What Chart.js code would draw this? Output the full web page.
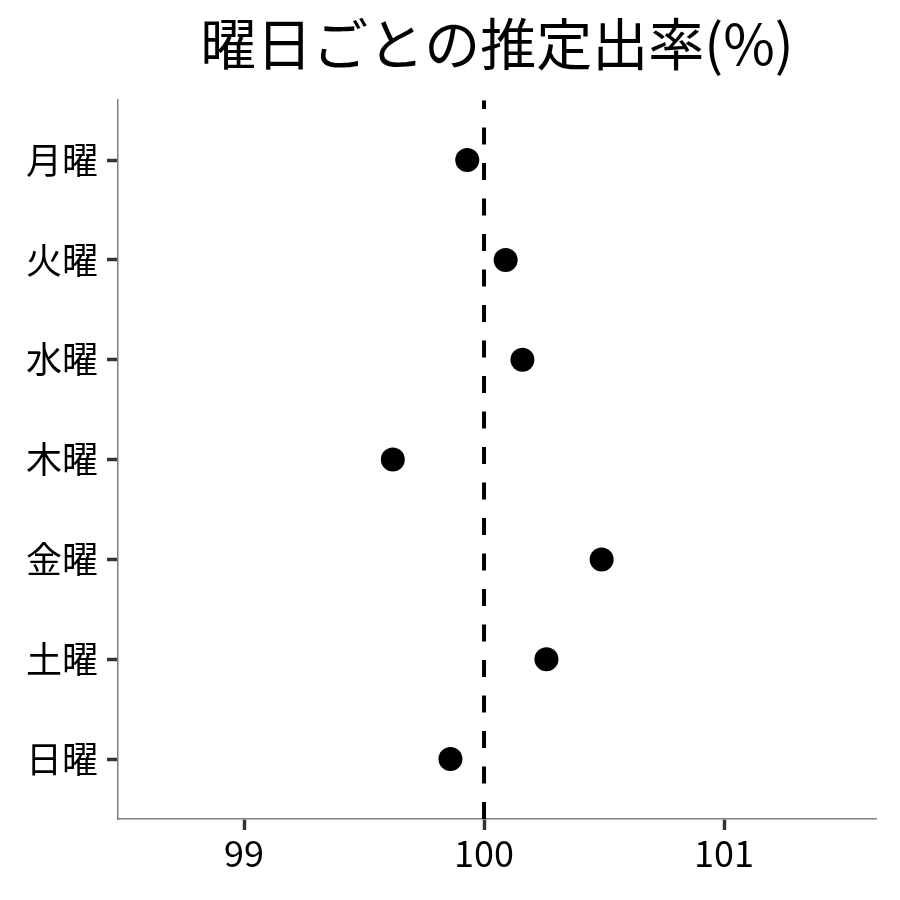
<!DOCTYPE html>
<html>
<head>
<meta charset="utf-8">
<script src="https://cdn.jsdelivr.net/npm/chart.js@4"></script>
<style>
  html, body { margin: 0; padding: 0; background: #ffffff; }
</style>
</head>
<body>
<canvas id="grafico" width="900" height="900"></canvas>
<script>
// Datos
const dias = ['月曜', '火曜', '水曜', '木曜', '金曜', '土曜', '日曜'];
const tasas = [99.93, 100.09, 100.16, 99.62, 100.49, 100.26, 99.86];
const ticksX = [99, 100, 101];
const lineaRef = 100;

Chart.defaults.font.family = "'Noto Sans CJK JP', 'Noto Sans', sans-serif";
Chart.defaults.color = '#000';

const puntos = tasas.map((v, i) => ({ x: v, y: i }));

const ctx = document.getElementById('grafico').getContext('2d');
new Chart(ctx, {
    type: 'scatter',
    data: {
        datasets: [
            {
                // línea de referencia discontinua (de abajo hacia arriba)
                type: 'line',
                data: [{ x: lineaRef, y: 6.6 }, { x: lineaRef, y: -0.6 }],
                borderColor: '#000',
                borderWidth: 4,
                borderDash: [17, 18.5],
                pointRadius: 0,
                order: 2,
            },
            {
                data: puntos,
                backgroundColor: '#000',
                borderColor: '#000',
                borderWidth: 0,
                pointRadius: 12,
                pointHoverRadius: 12,
                order: 1,
            },
        ],
    },
    options: {
        responsive: false,
        animation: false,
        layout: { padding: { left: 0, right: 24, top: 0, bottom: 0 } },
        plugins: {
            legend: { display: false },
            tooltip: { enabled: false },
            title: {
                display: true,
                fullSize: false,
                text: '曜日ごとの推定出率(%)',
                color: '#000',
                font: { size: 56, weight: 'normal' },
                padding: { top: 10, bottom: 23 },
            },
        },
        scales: {
            x: {
                type: 'linear',
                min: 98.475,
                max: 101.633,
                afterBuildTicks: (scale) => { scale.ticks = ticksX.map(v => ({ value: v })); },
                afterFit: (scale) => { scale.height = 81; },
                border: { display: true, color: '#7f7f7f', width: 1.5 },
                grid: {
                    drawOnChartArea: false,
                    drawTicks: true,
                    tickLength: 11,
                    tickWidth: 3.5,
                    tickColor: '#333',
                },
                ticks: {
                    color: '#000',
                    padding: 2,
                    font: { size: 36 },
                    callback: (v) => String(v),
                },
            },
            y: {
                type: 'linear',
                reverse: true,
                min: -0.6,
                max: 6.6,
                afterBuildTicks: (scale) => { scale.ticks = dias.map((d, i) => ({ value: i })); },
                afterFit: (scale) => { scale.width = 118; },
                border: { display: true, color: '#7f7f7f', width: 1.5 },
                grid: {
                    drawOnChartArea: false,
                    drawTicks: true,
                    tickLength: 11,
                    tickWidth: 3.5,
                    tickColor: '#333',
                },
                ticks: {
                    color: '#000',
                    padding: 9,
                    font: { size: 36 },
                    callback: (v) => dias[v],
                },
            },
        },
    },
});
</script>
</body>
</html>
